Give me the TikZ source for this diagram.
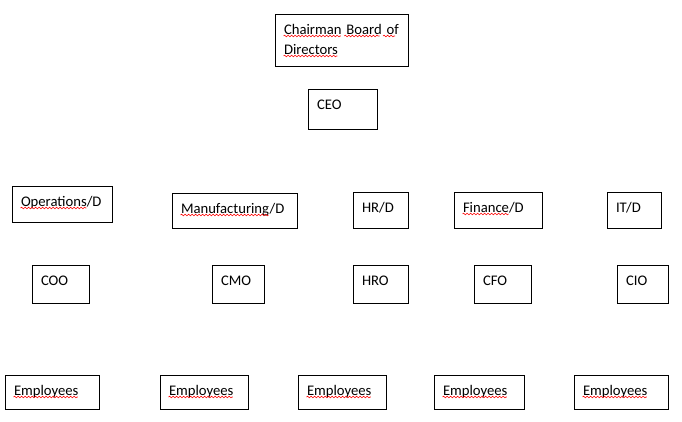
\documentclass[tikz,border=0pt]{standalone}
\usepackage{fontspec}
\setmainfont{Carlito}
\usepackage{xcolor}
\usetikzlibrary{calc, decorations.pathmorphing}

\newcommand{\boxfont}{\fontsize{14.67pt}{20pt}\selectfont}
\newlength{\preskip}
\newlength{\wordlen}
% red spell-check wave under a word of a box: node, drop below top, text before, word
\newcommand{\spellwave}[4]{%
  \pgfinterruptpicture
    \settowidth{\preskip}{\boxfont #3}\global\preskip=\preskip
    \settowidth{\wordlen}{\boxfont #4}\global\wordlen=\wordlen
  \endpgfinterruptpicture
  \draw[squiggle] ($(#1.north west)+(8.5pt+\preskip,-#2)$) -- ++(\wordlen,0);}

\begin{document}
\begin{tikzpicture}[x=1pt, y=-1pt,
  orgbox/.style={draw, line width=1pt, anchor=north west, inner xsep=8.5pt,
    inner ysep=0pt, text height=19.5pt, align=left, font=\boxfont},
  squiggle/.style={red, line width=0.6pt, decorate,
    decoration={snake, segment length=3.5pt, amplitude=0.8pt}}]

  \useasboundingbox (0,0) rectangle (682,421);

  % ----- Board and CEO -----
  \node[orgbox, text width=116pt, text depth=32.5pt] at (275,14) (chair)
    {Chairman Board of\\Directors};
  \node[orgbox, text width=52pt, text depth=20.5pt] at (308,89) (ceo) {CEO};

  % ----- Departments -----
  \node[orgbox, text width=83pt, text depth=16.5pt] at (12,186) (opsd) {Operations/D};
  \node[orgbox, text width=108pt, text depth=15.5pt] at (172,193) (mfgd) {Manufacturing/D};
  \node[orgbox, text width=38pt, text depth=16.5pt] at (353,192) (hrd) {HR/D};
  \node[orgbox, text width=71pt, text depth=16.5pt] at (454,192) (find) {Finance/D};
  \node[orgbox, text width=37pt, text depth=16.5pt] at (607,192) (itd) {IT/D};

  % ----- Officers -----
  \node[orgbox, text width=40pt, text depth=18.5pt] at (32,265) (coo) {COO};
  \node[orgbox, text width=35pt, text depth=18.5pt] at (212,265) (cmo) {CMO};
  \node[orgbox, text width=38pt, text depth=18.5pt] at (353,265) (hro) {HRO};
  \node[orgbox, text width=40pt, text depth=18.5pt] at (474,265) (cfo) {CFO};
  \node[orgbox, text width=34pt, text depth=18.5pt] at (617,265) (cio) {CIO};

  % ----- Employees -----
  \foreach \x/\w [count=\i] in {5/77, 160/71, 298/71, 434/73, 574/77}
    \node[orgbox, text width=\w pt, text depth=14.5pt] at (\x,375) (emp\i) {Employees};

  % ----- spell-check waves -----
  \spellwave{chair}{22pt}{}{Chairman}
  \spellwave{chair}{22pt}{Chairman }{Board}
  \spellwave{chair}{22pt}{Chairman Board }{of}
  \spellwave{chair}{42pt}{}{Directors}
  \spellwave{opsd}{22pt}{}{Operations}
  \spellwave{mfgd}{22pt}{}{Manufacturing}
  \spellwave{find}{22pt}{}{Finance}
  \foreach \i in {1,...,5}
    {\spellwave{emp\i}{22pt}{}{Employees}}

\end{tikzpicture}
\end{document}
